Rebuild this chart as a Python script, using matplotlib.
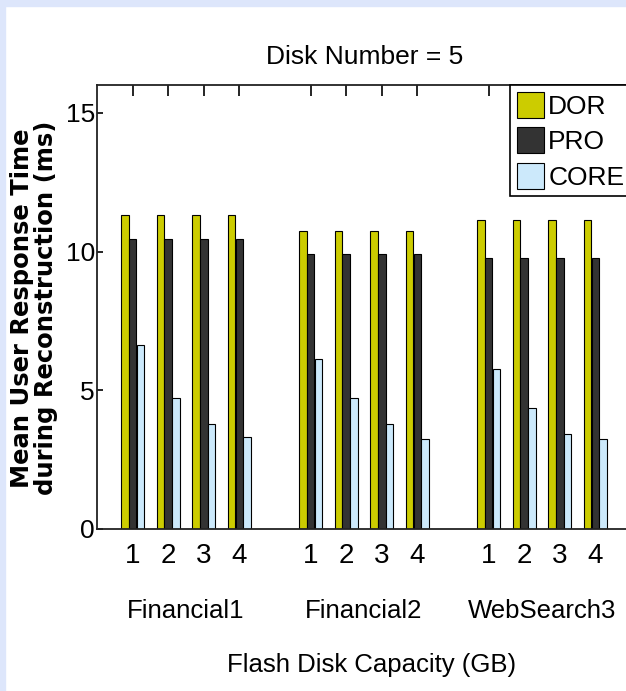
import matplotlib
matplotlib.use('Agg')
import matplotlib.pyplot as plt
from matplotlib.patches import Rectangle
import matplotlib.transforms as mtransforms
import numpy as np

plt.rcParams['font.family'] = ['Liberation Sans', 'DejaVu Sans']

# data
workloads = ['Financial1', 'Financial2', 'WebSearch3']
capacity = ['1', '2', '3', '4']
positions = [1, 2, 3, 4, 6, 7, 8, 9, 11, 12, 13, 14]
dor = [11.3, 11.3, 11.3, 11.3, 10.75, 10.75, 10.75, 10.75, 11.15, 11.15, 11.15, 11.15]
pro = [10.45, 10.45, 10.45, 10.45, 9.9, 9.9, 9.9, 9.9, 9.75, 9.75, 9.75, 9.75]
core = [6.64, 4.72, 3.80, 3.33, 6.14, 4.72, 3.80, 3.25, 5.78, 4.37, 3.44, 3.25]
series = ['DOR', 'PRO', 'CORE']
colors = ['#cccc00', '#333333', '#cce9fb']

W, H = 626, 691
fig = plt.figure(figsize=(W / 100, H / 100), dpi=100)
fig.patch.set_facecolor('white')

# light frame of the original slide
fig.add_artist(Rectangle((0, 1 - 6 / H), 1, 6 / H, transform=fig.transFigure,
                         color='#dde6fb', zorder=0))
fig.add_artist(Rectangle((0, 0), 5 / W, 1, transform=fig.transFigure,
                         color='#dde6fb', zorder=0))

ax = fig.add_axes([97 / W, 162 / H, 534 / W, 444 / H])

x = np.array(positions, dtype=float)
bw = 0.21
off = 0.22
for i, (vals, c, name) in enumerate(zip([dor, pro, core], colors, series)):
    ax.bar(x + (i - 1) * off, vals, bw, color=c, edgecolor='black',
           linewidth=0.8, label=name, zorder=2)

ax.set_xlim(0, 15)
ax.set_ylim(0, 16)
ax.set_yticks([0, 5, 10, 15])
ax.set_xticks(positions)
ax.set_xticklabels(capacity * len(workloads))

ax.tick_params(axis='x', direction='in', top=True, bottom=False, length=8,
               width=1.2, pad=10, labelsize=20)
ax.tick_params(axis='y', direction='in', left=True, right=False, length=4,
               width=1.2, pad=1.5, labelsize=19)
for s in ax.spines.values():
    s.set_linewidth(1.3)
    s.set_color('#222222')

trans = mtransforms.blended_transform_factory(ax.transData, ax.transAxes)
for k, name in enumerate(workloads):
    cx = np.mean(positions[4 * k:4 * k + 4])
    ax.text(cx, -0.2005, name, transform=trans, ha='center', va='baseline',
            fontsize=18.5)

fig.text(372 / W, 1 - 672 / H, 'Flash Disk Capacity (GB)', ha='center',
         va='baseline', fontsize=18.5)
fig.text(365 / W, 1 - 64 / H, 'Disk Number = 5', ha='center',
         va='baseline', fontsize=19)
fig.text(34 / W, 1 - 308 / H, 'Mean User Response Time\nduring Reconstruction (ms)',
         rotation=90, ha='center', va='center', multialignment='center',
         linespacing=0.95, fontsize=17.5, fontweight='bold',
         family=['DejaVu Sans'])

leg = ax.legend(loc='upper right', bbox_to_anchor=(1, 1), borderaxespad=0,
                fancybox=False, edgecolor='black', framealpha=1, fontsize=19,
                handlelength=1.05, handleheight=1.15, labelspacing=0.32,
                handletextpad=0.15, borderpad=0.25)
leg.get_frame().set_linewidth(1.2)

fig.savefig('out.png', dpi=100)
